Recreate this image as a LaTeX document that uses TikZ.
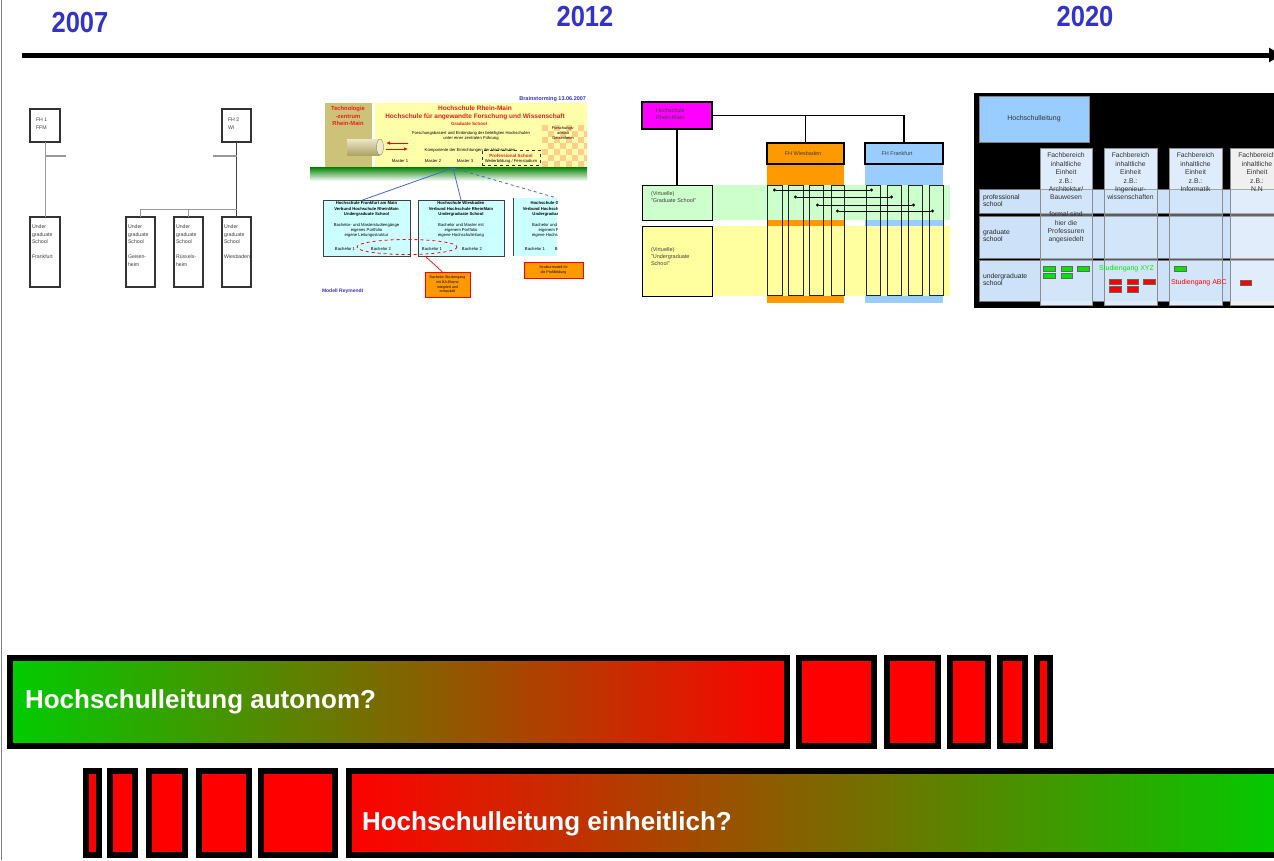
\documentclass[tikz,border=0pt]{standalone}
\usepackage{fontspec}
\usepackage{graphicx}
\setmainfont{Liberation Sans}
\usetikzlibrary{arrows.meta}
\definecolor{yearblue}{RGB}{51,51,204}
\definecolor{bargreen}{RGB}{0,204,0}
\definecolor{khaki}{RGB}{204,194,120}
\definecolor{paleyellow}{RGB}{255,255,170}
\definecolor{palecyan}{RGB}{204,255,255}
\definecolor{orng}{RGB}{255,153,0}
\definecolor{skyb}{RGB}{153,204,255}
\definecolor{palegreen}{RGB}{204,255,204}
\definecolor{paleyel}{RGB}{255,255,160}
\definecolor{magent}{RGB}{255,0,255}
\definecolor{colfill}{RGB}{222,236,251}
\definecolor{rowfill}{RGB}{205,226,248}
\definecolor{checkA}{RGB}{255,205,140}
\definecolor{lineblue}{RGB}{70,100,220}
\definecolor{txtred}{RGB}{235,30,30}
\definecolor{studgreen}{RGB}{0,230,0}
\begin{document}
\begin{tikzpicture}[x=1pt,y=-1pt,
  every node/.style={inner sep=0pt, outer sep=0pt},
  year/.style={text=yearblue, font=\bfseries\fontsize{29}{29}\selectfont},
  bartext/.style={text=white, font=\bfseries\fontsize{26}{28}\selectfont, anchor=west},
  barbox/.style={draw=black, line width=6pt, fill=red},
  barframe/.style={draw=black, line width=6pt},
  onebox/.style={draw=black!80, line width=1.2pt, fill=white, anchor=north west},
  onetxt/.style={anchor=north west, align=left, text=black!75, font=\fontsize{5.2}{7.5}\selectfont},
  oneline/.style={draw=black!40, line width=1pt},
  twotxt/.style={font=\fontsize{4.2}{5.4}\selectfont, align=center},
  twohead/.style={font=\bfseries\fontsize{4.2}{5.1}\selectfont, align=center},
  twored/.style={text=txtred, font=\bfseries\fontsize{6.5}{8}\selectfont, align=center},
  cyanbox/.style={fill=palecyan, draw=black!75, line width=0.9pt, anchor=north west},
  orangebox/.style={fill=orng, draw=red, line width=1pt, anchor=north west},
  bluelink/.style={draw=lineblue, line width=0.8pt},
  threebox/.style={draw=black, line width=1.2pt, anchor=north west},
  threetxt/.style={font=\fontsize{5.5}{7}\selectfont, text=black!75, align=left},
  colbox/.style={draw=black!85, line width=1pt},
  link/.style={draw=black, line width=0.9pt, arrows={Circle[open,length=3pt]-Circle[open,length=3pt]}},
  fourtxt/.style={font=\fontsize{6.8}{8.4}\selectfont, text=black!80, align=center},
  rowtxt/.style={font=\fontsize{6.8}{7.5}\selectfont, text=black!85, align=left, anchor=north west},
  greenbit/.style={fill=studgreen, draw=black!60, line width=0.5pt},
  redbit/.style={fill=red, draw=black!60, line width=0.5pt},
]
\useasboundingbox (0,0) rectangle (1274,860);
\fill[white] (0,0) rectangle (1274,860);
\draw[black!50, line width=1pt] (1,0) -- (1,860);

% ---------- timeline ----------
\coordinate (tl0) at (22,55);
\coordinate (tl1) at (1281,55);
\draw[line width=5pt, -{Triangle[length=12pt,width=14pt]}] (tl0) -- (tl1);
\node[year] (y2007) at (80,23) {\scalebox{0.88}[1]{2007}};
\node[year] (y2012) at (585,17) {\scalebox{0.88}[1]{2012}};
\node[year] (y2020) at (1085,17) {\scalebox{0.88}[1]{2020}};

% ---------- diagram 1 ----------
\node[onebox, minimum width=30pt, minimum height=33pt] (fh1) at (30,109) {};
\node[onebox, minimum width=29pt, minimum height=33pt] (fh2) at (222,109) {};
\node[onebox, minimum width=30pt, minimum height=70pt] (u1) at (30,217) {};
\node[onebox, minimum width=29pt, minimum height=70pt] (u2) at (126,217) {};
\node[onebox, minimum width=29pt, minimum height=70pt] (u3) at (174,217) {};
\node[onebox, minimum width=29pt, minimum height=70pt] (u4) at (222,217) {};
\node[onetxt] (fh1t) at (36,118) {FH 1\\FFM};
\node[onetxt] (fh2t) at (228,118) {FH 2\\WI};
\node[onetxt] (u1t) at (32,225) {Under\\graduate\\School\\[7.5pt]Frankfurt};
\node[onetxt] (u2t) at (128,225) {Under\\graduate\\School\\[7.5pt]Geisen-\\heim};
\node[onetxt] (u3t) at (176,225) {Under\\graduate\\School\\[7.5pt]Rüssels-\\heim};
\node[onetxt] (u4t) at (224,225) {Under\\graduate\\School\\[7.5pt]Wiesbaden};
\coordinate (j1) at (45,156);
\coordinate (j1e) at (66,156);
\coordinate (j2) at (236.5,156);
\coordinate (j2e) at (213,156);
\coordinate (bus) at (236.5,209);
\draw[oneline] (fh1.south) -- (u1.north);
\draw[oneline, line width=1.5pt] (j1) -- (j1e);
\draw[oneline, draw=black!75] (fh2.south) -- (u4.north);
\draw[oneline, line width=1.5pt] (j2) -- (j2e);
\draw[oneline] (bus) -| (u2.north);
\draw[oneline] (u3.north) -- (u3.north |- bus);

% ---------- diagram 2 ----------
\node[fill=khaki, minimum width=47pt, minimum height=64pt, anchor=north west] (tz) at (325,103) {};
\node[fill=paleyellow, minimum width=212pt, minimum height=64pt, anchor=north west] (hrm2) at (375,103) {};
\begin{scope}
  \clip (542,125) rectangle (587,167);
  \foreach \i in {0,...,7} {
    \foreach \j in {0,...,6} {
      \pgfmathtruncatemacro{\chk}{mod(\i+\j,2)}
      \ifnum\chk=0 \fill[checkA] ({542+6*\i},{125+6*\j}) rectangle ++(6,6); \fi
    }
  }
\end{scope}
\shade[top color=khaki!40!white, bottom color=khaki!85!black] (347,139) rectangle (380,155);
\filldraw[fill=khaki!35!white, draw=khaki!70!black, line width=0.4pt] (380,147) ellipse [x radius=3.5, y radius=8];
\coordinate (ra1) at (408,143);
\coordinate (ra2) at (386,143);
\coordinate (ra3) at (386,149);
\coordinate (ra4) at (408,149);
\draw[red, line width=1pt, -{Latex[length=4pt,width=3.5pt]}] (ra1) -- (ra2);
\draw[red, line width=1pt, -{Latex[length=4pt,width=3.5pt]}] (ra3) -- (ra4);
\node[twored, font=\bfseries\fontsize{5.8}{7.5}\selectfont] (tzt) at (348,116) {Technologie\\-zentrum\\Rhein-Main};
\node[twored] (hrmt1) at (475,108) {Hochschule Rhein-Main};
\node[twored] (hrmt2) at (475,117) {Hochschule für angewandte Forschung und Wissenschaft};
\node[twored, font=\bfseries\fontsize{4.5}{5}\selectfont] (hrmt3) at (469,124) {Graduate School};
\node[twotxt] (hrmt4) at (471,136) {Forschungsbasiert und Einbindung der beteiligten Hochschulen\\unter einer zentralen Führung};
\node[twotxt] (hrmt5) at (470,150) {Komponente der Einrichtungen der Hochschulen};
\node[twotxt] (m1) at (400,161) {Master 1};
\node[twotxt] (m2) at (433,161) {Master 2};
\node[twotxt] (m3) at (465,161) {Master 3};
\node[draw=black!80, dashed, line width=0.6pt, minimum width=58pt, minimum height=15pt, anchor=north west] (ps) at (482,150) {};
\node[twored, font=\bfseries\fontsize{4.5}{5}\selectfont] (pst) at (511,155.5) {Professional School};
\node[twotxt] (pst2) at (511,161) {Weiterbildung / Fernstudium};
\node[twotxt, font=\fontsize{4}{5}\selectfont] (fag) at (563,133) {Forschungs-\\anstalt\\Geisenheim};
\node[font=\bfseries\fontsize{5.5}{6}\selectfont, text=yearblue, anchor=east] (bs) at (586,99) {Brainstorming 13.06.2007};
\shade[top color=green!50!black, bottom color=white] (310,167) rectangle (587,181);

\coordinate (apex) at (453,168);
\node[cyanbox, minimum width=87pt, minimum height=56pt] (ba) at (323,200) {};
\node[cyanbox, minimum width=86pt, minimum height=56pt] (bb) at (418,200) {};
\fill[palecyan] (513,198) rectangle (557,256);
\node[minimum width=44pt, minimum height=58pt, anchor=north west] (bc) at (513,198) {};
\draw[black!75, line width=0.9pt] (bc.north west) -- (bc.south west);
\draw[bluelink] (apex) -- ([xshift=-4pt]ba.north);
\draw[bluelink] (apex) -- (bb.north);
\draw[bluelink, dashed] (apex) -- (bc.north east);
\node[twohead] (bat1) at (366.5,209) {Hochschule Frankfurt am Main\\Verbund Hochschule RheinMain\\Undergraduate School};
\node[twotxt] (bat2) at (366.5,230.5) {Bachelor- und Masterstudiengänge\\eigenes Portfolio\\eigene Leitungsstruktur};
\node[twotxt] (bat3) at (345,249) {Bachelor 1};
\node[twotxt] (bat4) at (381,249) {Bachelor 2};
\node[twohead] (bbt1) at (461,209) {Hochschule Wiesbaden\\Verbund Hochschule RheinMain\\Undergraduate School};
\node[twotxt] (bbt2) at (461,230.5) {Bachelor und Master mit\\eigenem Portfolio\\eigene Hochschulleitung};
\node[twotxt] (bbt3) at (432,249) {Bachelor 1};
\node[twotxt] (bbt4) at (472,249) {Bachelor 2};
\begin{scope}
  \clip (513,198) rectangle (557,256);
  \node[twohead] (bct1) at (555,209) {Hochschule Geisenheim\\Verbund Hochschule RheinMain\\Undergraduate School};
  \node[twotxt] (bct2) at (555,230.5) {Bachelor und Master mit\\eigenem Portfolio\\eigene Hochschulleitung};
  \node[twotxt] (bct3) at (535,249) {Bachelor 1};
  \node[twotxt] (bct4) at (565,249) {Bachelor 2};
\end{scope}
\draw[red, dashed, line width=0.8pt] (407,247) ellipse [x radius=50, y radius=7.5];
\node[orangebox, minimum width=45pt, minimum height=25pt] (ob1) at (425,272) {};
\node[twotxt, font=\fontsize{3.6}{4.6}\selectfont] (ob1t) at (447.5,284.5) {Bachelor-Studiengang\\mit BA-Ebene\\integriert und\\entwickelt};
\coordinate (ell) at (425,256);
\draw[red, line width=0.7pt] (ell) -- ([xshift=-5pt]ob1.north);
\node[orangebox, minimum width=59pt, minimum height=16pt] (ob2) at (524,262) {};
\node[twotxt, font=\fontsize{3.6}{4.6}\selectfont] (ob2t) at (553.5,270) {Strukturmodell für\\die Profilbildung};
\node[font=\bfseries\fontsize{5}{6}\selectfont, text=yearblue, anchor=west] (mr) at (322,291) {Modell Reymendt};

% ---------- diagram 3 ----------
\fill[orng] (767,164) rectangle (844,303);
\fill[skyb] (865,164) rectangle (943,303);
\fill[palegreen] (642,185) rectangle (950,220);
\fill[paleyel] (642,226) rectangle (950,296);
\node[threebox, fill=magent, minimum width=70pt, minimum height=27pt] (hrm3) at (642,102) {};
\node[threetxt, anchor=north west] (hrm3t) at (656,109) {Hochschule\\Rhein-Main};
\node[threebox, fill=orng, minimum width=77pt, minimum height=21pt] (fhw) at (767,143) {};
\node[threetxt] (fhwt) at (803,153.5) {FH Wiesbaden};
\node[threebox, fill=skyb, minimum width=78pt, minimum height=21pt] (fhf) at (865,143) {};
\node[threetxt] (fhft) at (897,153.5) {FH Frankfurt};
\node[threebox, line width=1pt, fill=palegreen, minimum width=70pt, minimum height=35pt] (gs3) at (642,185) {};
\node[threetxt, anchor=north west] (gs3t) at (651,192) {(Virtuelle)\\"Graduate School"};
\node[threebox, line width=1pt, fill=paleyel, minimum width=70pt, minimum height=70pt] (ug3) at (642,226) {};
\node[threetxt, anchor=north west] (ug3t) at (651,248) {(Virtuelle)\\"Undergraduate\\School"};
\draw[black, line width=1.2pt] (hrm3.south) -- (gs3.north);
\draw[black, line width=1.2pt] (hrm3.east) -| (fhf.north);
\draw[black, line width=1.2pt] (fhw.north) |- (hrm3.east);
\foreach \a/\b in {767/782, 788/803, 809/823, 831/844, 866/880, 887/901, 908/922, 929/943}
  \draw[colbox] (\a,185) rectangle (\b,295);
\coordinate (l1a) at (773,190); \coordinate (l1b) at (873,190);
\coordinate (l2a) at (794,197); \coordinate (l2b) at (893,197);
\coordinate (l3a) at (816,205); \coordinate (l3b) at (915,205);
\coordinate (l4a) at (836,211); \coordinate (l4b) at (934,211);
\draw[link] (l1a) -- (l1b);
\draw[link] (l2a) -- (l2b);
\draw[link] (l3a) -- (l3b);
\draw[link] (l4a) -- (l4b);

% ---------- diagram 4 ----------
\fill[black] (974,93) rectangle (1280,308);
\node[fill=skyb, draw=black!50, line width=0.6pt, minimum width=110pt, minimum height=46pt, anchor=north west, font=\fontsize{7}{8}\selectfont, text=black!80] (hl) at (979,96) {Hochschulleitung};
\foreach \ya/\yb in {189/213, 216/258, 260/301}
  \filldraw[fill=rowfill, draw=black!55, line width=0.6pt] (979,\ya) rectangle (1282,\yb);
\foreach \xa/\xb in {1040/1092, 1104/1157, 1169/1222} {
  \fill[colfill] (\xa,148) rectangle (\xb,189);
  \fill[colfill] (\xa,301) rectangle (\xb,305);
  \fill[colfill, opacity=0.4] (\xa,189) rectangle (\xb,301);
  \draw[black!45, line width=0.6pt] (\xa,148) rectangle (\xb,305);
}
\fill[black!6] (1230,148) rectangle (1285,189);
\fill[black!6] (1230,301) rectangle (1285,305);
\fill[white, opacity=0.4] (1230,189) rectangle (1285,301);
\draw[black!45, line width=0.6pt] (1285,148) -- (1230,148) -- (1230,305) -- (1285,305);
\node[fourtxt, anchor=north] (c1t) at (1066,153) {Fachbereich\\inhaltliche\\Einheit\\z.B.:\\Architektur/\\Bauwesen\\[8.4pt]formal sind\\hier die\\Professuren\\angesiedelt};
\node[fourtxt, anchor=north] (c2t) at (1130.5,153) {Fachbereich\\inhaltliche\\Einheit\\z.B.:\\Ingenieur-\\wissenschaften};
\node[fourtxt, anchor=north] (c3t) at (1195.5,153) {Fachbereich\\inhaltliche\\Einheit\\z.B.:\\Informatik};
\node[fourtxt, anchor=north] (c4t) at (1257,153) {Fachbereich\\inhaltliche\\Einheit\\z.B.:\\N.N};
\node[rowtxt] (r1t) at (983,194.5) {professional\\school};
\node[rowtxt] (r2t) at (983,229.5) {graduate\\school};
\node[rowtxt] (r3t) at (983,273.5) {undergraduate\\school};
\foreach \xa/\ya/\xb/\yb in {1043/266/1055/271, 1061/266/1072/271, 1077/266/1089/271, 1043/273/1055/278, 1061/273/1072/278, 1174/266/1186/271}
  \draw[greenbit] (\xa,\ya) rectangle (\xb,\yb);
\foreach \xa/\ya/\xb/\yb in {1109/279/1121/284, 1127/279/1138/284, 1143/279/1155/284, 1109/286/1121/292, 1127/286/1138/292, 1240/280/1251/285}
  \draw[redbit] (\xa,\ya) rectangle (\xb,\yb);
\node[font=\fontsize{7}{8}\selectfont, text=studgreen, anchor=west] (sxyz) at (1099,269) {Studiengang XYZ};
\node[font=\fontsize{7}{8}\selectfont, text=red, anchor=west] (sabc) at (1171,283) {Studiengang ABC};

% ---------- bars ----------
\shade[left color=bargreen, right color=red] (10,658) rectangle (787,746);
\draw[barframe] (10,658) rectangle (787,746);
\node[bartext] (bt1) at (25,702) {Hochschulleitung autonom?};
\foreach \a/\b in {796/877, 884/941, 947/991, 997/1028, 1034/1053}
  \draw[barbox] (\a+3,658) rectangle (\b-3,746);
\foreach \a/\b in {83/102, 107/138, 146/188, 196/252, 258/338}
  \draw[barbox] (\a+3,771) rectangle (\b-3,855);
\shade[left color=red, right color=bargreen] (349,771) rectangle (1290,855);
\draw[barframe] (349,771) rectangle (1290,855);
\node[bartext] (bt2) at (362,823.5) {Hochschulleitung einheitlich?};
\end{tikzpicture}
\end{document}
